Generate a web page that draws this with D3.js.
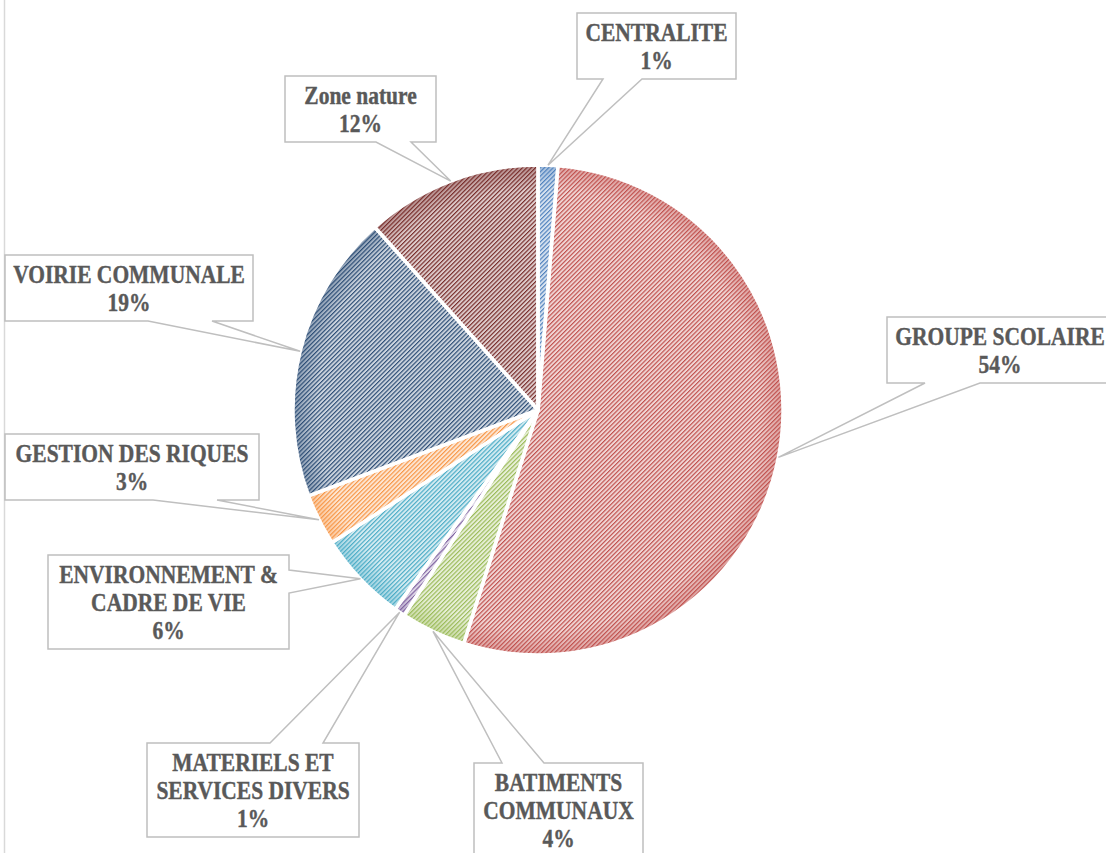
<!DOCTYPE html>
<html lang="fr">
<head>
  <meta charset="UTF-8">
  <title>Répartition des investissements</title>
  <script src="https://d3js.org/d3.v7.min.js"></script>
  <style>
    body { margin: 0; background: #fff; }
    .lbl { font-family: "Liberation Serif", "DejaVu Serif", serif; font-weight: bold; font-size: 25px; fill: #595959; stroke: #595959; stroke-width: 0.4px; }
  </style>
</head>
<body>
  <svg id="chart" width="1106" height="853"></svg>

  <script>
    // slice order, clockwise from 12 o'clock
    const categories = [
      "CENTRALITE",
      "GROUPE SCOLAIRE",
      "BATIMENTS\nCOMMUNAUX",
      "MATERIELS ET\nSERVICES DIVERS",
      "ENVIRONNEMENT &\nCADRE DE VIE",
      "GESTION DES RIQUES",
      "VOIRIE COMMUNALE",
      "Zone nature"
    ];
    const values = [1.3, 53.6, 4.3, 0.7, 6.0, 3.4, 19.1, 11.6];
    const colors = ["#4F81BD", "#C0504D", "#9BBB59", "#8064A2", "#4BACC6", "#F79646", "#2C4D75", "#772C2A"];

    // callout boxes: x0, y0, x1, which edge the pointer leaves from, and where on that edge
    const calloutBoxes = [
      { x0: 577, y0: 13,  x1: 736,  side: "bottom", p0: 603, p1: 642 },
      { x0: 887, y0: 317, x1: 1113, side: "bottom", p0: 925, p1: 980 },
      { x0: 474, y0: 763, x1: 643,  side: "top",    p0: 502, p1: 544 },
      { x0: 147, y0: 743, x1: 359,  side: "top",    p0: 270, p1: 323 },
      { x0: 48,  y0: 555, x1: 289,  side: "right",  p0: 570, p1: 593 },
      { x0: 5,   y0: 434, x1: 259,  side: "bottom", p0: 153, p1: 217 },
      { x0: 5,   y0: 255, x1: 253,  side: "bottom", p0: 148, p1: 212 },
      { x0: 285, y0: 76,  x1: 436,  side: "bottom", p0: 376, p1: 411 }
    ];

    const svg = d3.select('#chart');
    const W = +svg.attr('width'), H = +svg.attr('height');
    const cx = 538, cy = 410, R = 245;
    const lineH = 28;

    // chart frame, only the left edge is inside the picture
    svg.append('line')
      .attr('x1', 4.5).attr('x2', 4.5).attr('y1', 0).attr('y2', H)
      .attr('stroke', '#D9D9D9').attr('stroke-width', 1.5);

    const defs = svg.append('defs');
    colors.forEach((c, i) => {
      const p = defs.append('pattern')
        .attr('id', 'hatch' + i)
        .attr('patternUnits', 'userSpaceOnUse')
        .attr('width', 3.1).attr('height', 3.1)
        .attr('patternTransform', 'rotate(45)');
      p.append('rect').attr('width', 3.1).attr('height', 3.1)
        .attr('fill', d3.interpolateRgb(c, '#fff')(0.76));
      p.append('rect').attr('width', 1.15).attr('height', 3.1).attr('fill', c);

      const g = defs.append('radialGradient')
        .attr('id', 'rim' + i)
        .attr('gradientUnits', 'userSpaceOnUse')
        .attr('cx', 0).attr('cy', 0).attr('r', R);
      g.append('stop').attr('offset', 0).attr('stop-color', c).attr('stop-opacity', 0);
      g.append('stop').attr('offset', 0.9).attr('stop-color', c).attr('stop-opacity', 0);
      g.append('stop').attr('offset', 1).attr('stop-color', c).attr('stop-opacity', 0.4);
    });

    const total = d3.sum(values);
    const data = categories.map((name, i) => ({ name, value: values[i], i }));

    const pie = d3.pie().sort(null).value(d => d.value);
    const arc = d3.arc().innerRadius(0).outerRadius(R);
    const arcs = pie(data);

    const pieG = svg.append('g').attr('transform', `translate(${cx},${cy})`);

    pieG.selectAll('path.slice')
      .data(arcs)
      .join('path')
      .attr('class', 'slice')
      .attr('d', arc)
      .attr('fill', d => `url(#hatch${d.data.i})`);

    pieG.selectAll('path.rim')
      .data(arcs)
      .join('path')
      .attr('class', 'rim')
      .attr('d', arc)
      .attr('fill', d => `url(#rim${d.data.i})`)
      .attr('stroke', '#fff')
      .attr('stroke-width', 3.5)
      .attr('stroke-linejoin', 'round');

    // callouts
    function calloutPath(b, h, tip) {
      const x0 = b.x0, y0 = b.y0, x1 = b.x1, y1 = b.y0 + h;
      const pts = [[x0, y0]];
      if (b.side === 'top') pts.push([b.p0, y0], tip, [b.p1, y0]);
      pts.push([x1, y0]);
      if (b.side === 'right') pts.push([x1, b.p0], tip, [x1, b.p1]);
      pts.push([x1, y1]);
      if (b.side === 'bottom') pts.push([b.p1, y1], tip, [b.p0, y1]);
      pts.push([x0, y1]);
      return 'M' + pts.map(p => p.join(',')).join('L') + 'Z';
    }

    const labG = svg.append('g');
    arcs.forEach(a => {
      const b = calloutBoxes[a.data.i];
      const lines = a.data.name.split('\n');
      lines.push(Math.round(a.data.value / total * 100) + '%');
      const h = lines.length * lineH + 10;
      const mid = (a.startAngle + a.endAngle) / 2;
      const tip = [cx + R * Math.sin(mid), cy - R * Math.cos(mid)];

      labG.append('path')
        .attr('d', calloutPath(b, h, tip))
        .attr('fill', '#fff')
        .attr('stroke', '#BFBFBF')
        .attr('stroke-width', 1.5);

      const t = labG.append('g')
        .attr('transform', `translate(${(b.x0 + b.x1) / 2},${b.y0}) scale(0.86,1)`);
      t.selectAll('text')
        .data(lines)
        .join('text')
        .attr('class', 'lbl')
        .attr('text-anchor', 'middle')
        .attr('x', 0)
        .attr('y', (d, k) => lineH + k * lineH)
        .text(d => d);
    });
  </script>
</body>
</html>
